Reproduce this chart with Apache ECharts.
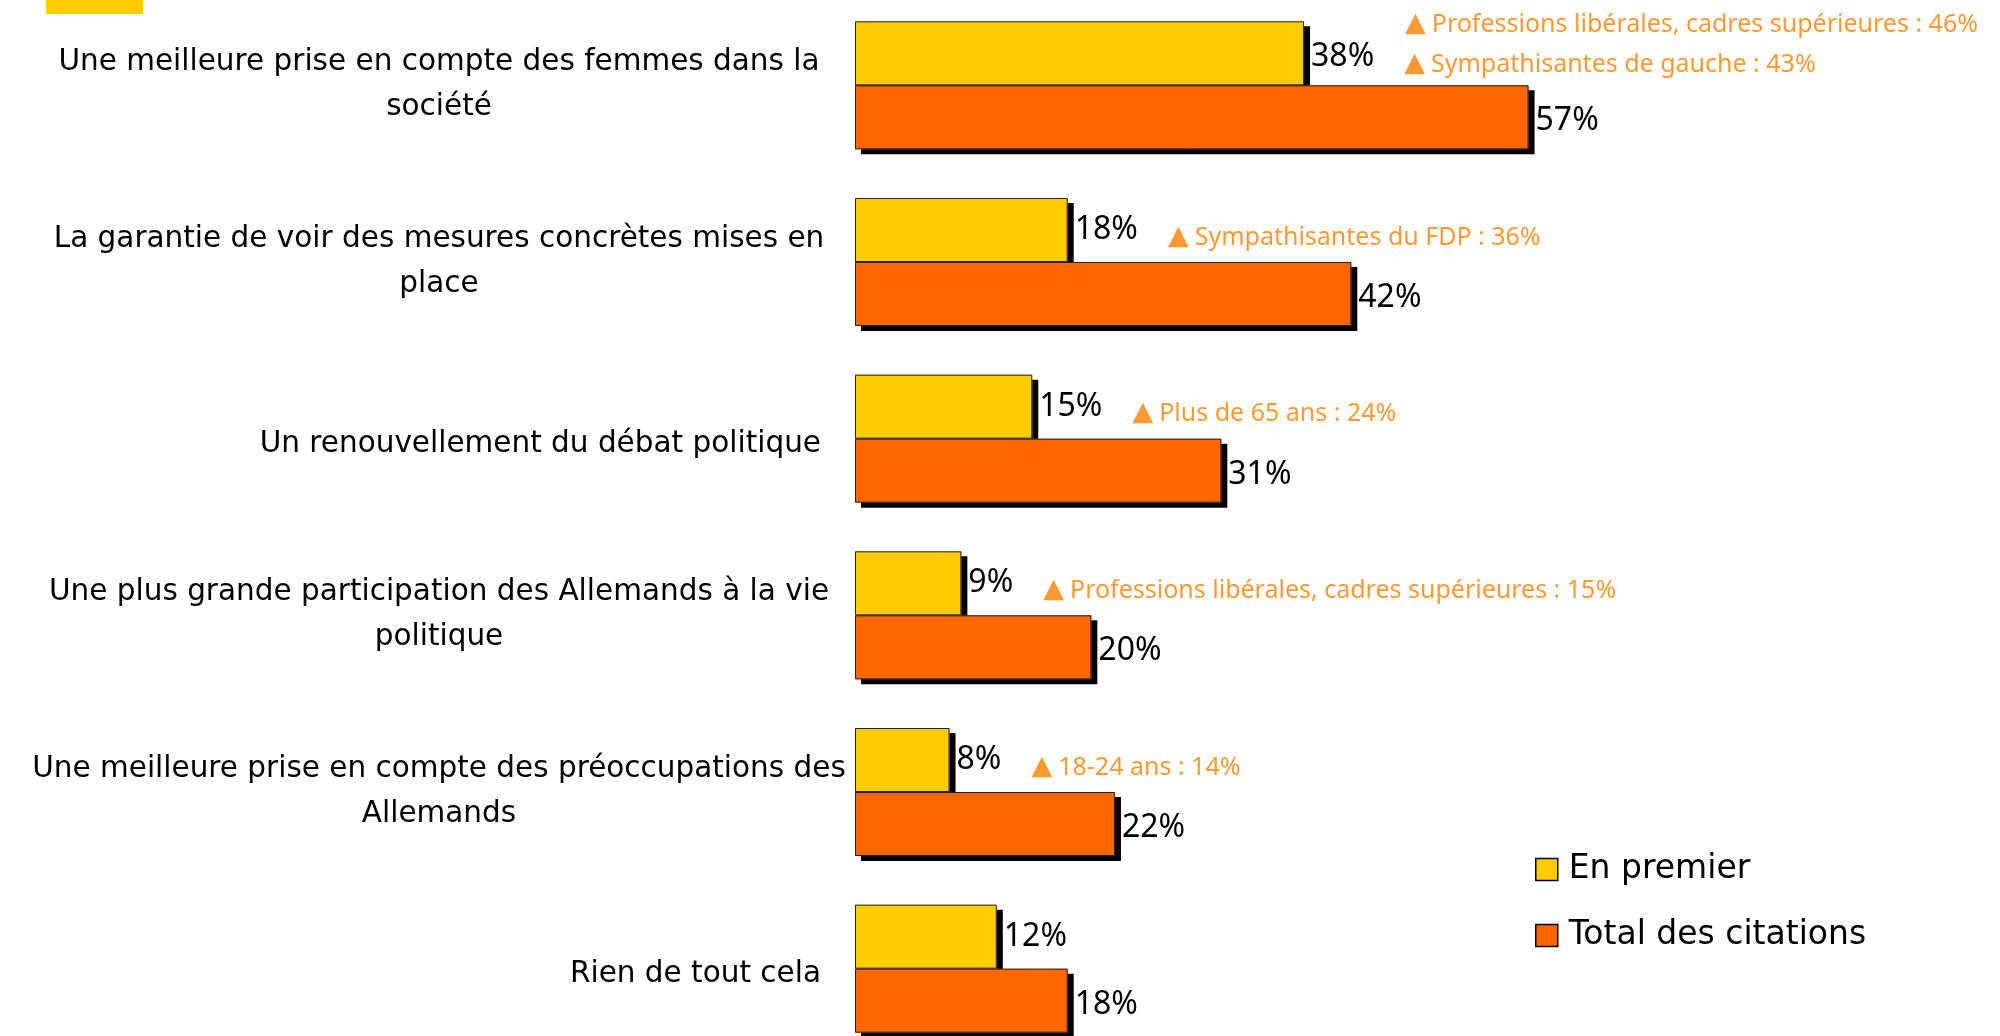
<!DOCTYPE html>
<html>
<head>
<meta charset="utf-8">
<script src="https://cdn.jsdelivr.net/npm/echarts@6/dist/echarts.min.js"></script>
<style>
  html, body { margin: 0; padding: 0; background: #fff; }
  #chart { width: 2000px; height: 1036px; }
</style>
</head>
<body>
<div id="chart"></div>
<script>
var categories = [
    'Une meilleure prise en compte des femmes dans la\nsociété',
    'La garantie de voir des mesures concrètes mises en\nplace',
    'Un renouvellement du débat politique',
    'Une plus grande participation des Allemands à la vie\npolitique',
    'Une meilleure prise en compte des préoccupations des\nAllemands',
    'Rien de tout cela'
];
var enPremier = [38, 18, 15, 9, 8, 12];
var totalCitations = [57, 42, 31, 20, 22, 18];
var notes = [
    ['Professions libérales, cadres supérieures : 46%', 'Sympathisantes de gauche : 43%'],
    ['Sympathisantes du FDP : 36%'],
    ['Plus de 65 ans : 24%'],
    ['Professions libérales, cadres supérieures : 15%'],
    ['18-24 ans : 14%'],
    []
];

var FONT = 'DejaVu Sans';
var NUM_FONT = 'Noto Sans';
var chart = echarts.init(document.getElementById('chart'));

// libellés : lignes centrées quand il y a un retour à la ligne
function catLabel(v) {
    if (v.indexOf('\n') < 0) return '{r|' + v + '}';
    return v.split('\n').map(function (l) { return '{c|' + l + '}'; }).join('\n');
}

function note(txt) {
    return '{t|▲}{a|' + txt + '}';
}

function firstLabel(p) {
    var n = notes[p.dataIndex];
    var v = '{v|' + p.value + '%}';
    if (n.length === 0) return v;
    if (n.length === 1) return v + note(n[0]);
    return '{sp|}' + note(n[0]) + '\n' + v + note(n[1]);
}

var yellowData = enPremier.map(function (v, i) {
    var d = {value: v};
    if (notes[i].length > 1) d.label = {offset: [0, -16]};
    return d;
});

var barStyle = {shadowColor: '#000', shadowBlur: 0, shadowOffsetX: 6, shadowOffsetY: 5};
// contour fin, dessiné à part pour que l'ombre ne le double pas
var outline = {color: 'rgba(0,0,0,0)', borderColor: '#222', borderWidth: 1};

var yAxisBase = {
    type: 'category',
    inverse: true,
    data: categories,
    axisLine: {show: false},
    axisTick: {show: false},
    splitLine: {show: false}
};

var option = {
    backgroundColor: '#fff',
    animation: false,
    grid: {left: 855, top: -3, width: 709, height: 1060, outerBoundsMode: 'none', containLabel: false},
    xAxis: {
        type: 'value', min: 0, max: 60,
        show: false
    },
    yAxis: [Object.assign({}, yAxisBase, {
        axisLabel: {
            margin: 26,
            formatter: catLabel,
            rich: {
                c: {width: 780, align: 'center', fontFamily: FONT, fontSize: 29.5, lineHeight: 45, color: '#000'},
                r: {fontFamily: FONT, fontSize: 29.5, lineHeight: 45, color: '#000', padding: [12, 8, 0, 0]}
            }
        }
    }), Object.assign({}, yAxisBase, {show: false, position: 'left'})],
    legend: {
        orient: 'vertical',
        left: 1530,
        top: 848,
        itemWidth: 22,
        itemHeight: 22,
        itemGap: 33,
        icon: 'rect',
        itemStyle: {borderColor: '#000', borderWidth: 1.5},
        textStyle: {fontFamily: FONT, fontSize: 33, color: '#000', padding: [0, 0, 0, 6]},
        data: ['En premier', 'Total des citations']
    },
    graphic: [{
        type: 'rect',
        shape: {x: 46, y: 0, width: 97, height: 14},
        style: {fill: '#FFCC00'}
    }],
    series: [{
        name: 'En premier',
        type: 'bar',
        data: yellowData,
        barWidth: 64,
        barGap: '0%',
        itemStyle: Object.assign({color: '#FFCC00'}, barStyle),
        label: {
            show: true,
            position: 'right',
            distance: 7,
            formatter: firstLabel,
            rich: {
                v: {fontFamily: NUM_FONT, fontSize: 32, color: '#000', lineHeight: 40},
                sp: {width: 64, lineHeight: 40},
                t: {fontFamily: 'DejaVu Sans', fontSize: 27, color: '#FF9933', lineHeight: 30,
                    verticalAlign: 'bottom', padding: [0, 6, 0, 30]},
                a: {fontFamily: NUM_FONT, fontSize: 25, color: '#FF9933', lineHeight: 30, verticalAlign: 'bottom'}
            }
        }
    }, {
        name: 'Total des citations',
        type: 'bar',
        data: totalCitations,
        barWidth: 64,
        itemStyle: Object.assign({color: '#FF6600'}, barStyle),
        label: {
            show: true,
            position: 'right',
            distance: 7,
            offset: [0, 4],
            formatter: '{c}%',
            fontFamily: NUM_FONT, fontSize: 32, color: '#000'
        }
    }, {
        type: 'bar', yAxisIndex: 1, data: enPremier, barWidth: 64, barGap: '0%',
        itemStyle: outline, silent: true, z: 3
    }, {
        type: 'bar', yAxisIndex: 1, data: totalCitations, barWidth: 64,
        itemStyle: outline, silent: true, z: 3
    }]
};

chart.setOption(option);
</script>
</body>
</html>
